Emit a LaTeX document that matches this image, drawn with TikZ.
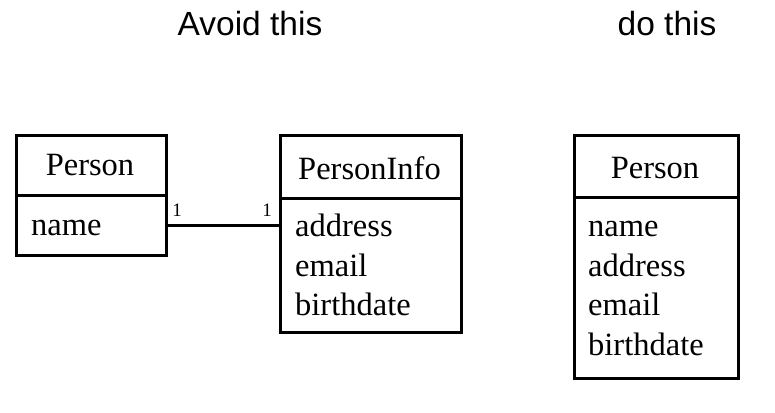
\documentclass[tikz,border=0pt]{standalone}
\usepackage{fontspec}
\setmainfont{Liberation Serif}
\newfontfamily\titlefont{Liberation Sans}
\begin{document}
\begin{tikzpicture}[x=1pt,y=-1pt,
  box/.style={draw, line width=2.6pt, inner sep=0pt, anchor=north west},
  cls/.style={font=\fontsize{32.5}{36}\selectfont, anchor=base, inner sep=0pt},
  attr/.style={font=\fontsize{32.5}{36}\selectfont, anchor=base west, inner sep=0pt},
  mult/.style={font=\fontsize{19}{20}\selectfont, anchor=base, inner sep=0pt},
  ttl/.style={font=\titlefont\fontsize{33.5}{36}\selectfont, anchor=base, inner sep=0pt},
  assoc/.style={line width=2.4pt}]
\useasboundingbox (0,0) rectangle (775,412);
% titles
\node[ttl] (t1) at (250,36) {Avoid this};
\node[ttl] (t2) at (667,36) {do this};
% left Person
\node[box, minimum width=150pt, minimum height=60pt] (ph) at (15,134) {};
\node[box, minimum width=150pt, minimum height=60pt] (pb) at (15,194) {};
\node[cls] (phl) at (90,175) {Person};
\node[attr] (pa1) at (31,235) {name};
% PersonInfo
\node[box, minimum width=181pt, minimum height=63pt] (ih) at (279,134) {};
\node[box, minimum width=181pt, minimum height=134pt] (ib) at (279,197) {};
\node[cls] (ihl) at (369.5,179) {PersonInfo};
\node[attr] (ia1) at (295,236) {address};
\node[attr] (ia2) at (295,276) {email};
\node[attr] (ia3) at (295,315) {birthdate};
% association
\draw[assoc] (pb.east) -- (pb.east -| ib.west) coordinate (ie);
\node[mult] (m1) at (177,216) {1};
\node[mult] (m2) at (267,216) {1};
% right Person
\node[box, minimum width=164pt, minimum height=62pt] (rh) at (573,134) {};
\node[box, minimum width=164pt, minimum height=181pt] (rb) at (573,196) {};
\node[cls] (rhl) at (655,178) {Person};
\node[attr] (ra1) at (588,236) {name};
\node[attr] (ra2) at (588,276) {address};
\node[attr] (ra3) at (588,315) {email};
\node[attr] (ra4) at (588,355) {birthdate};
\end{tikzpicture}
\end{document}
